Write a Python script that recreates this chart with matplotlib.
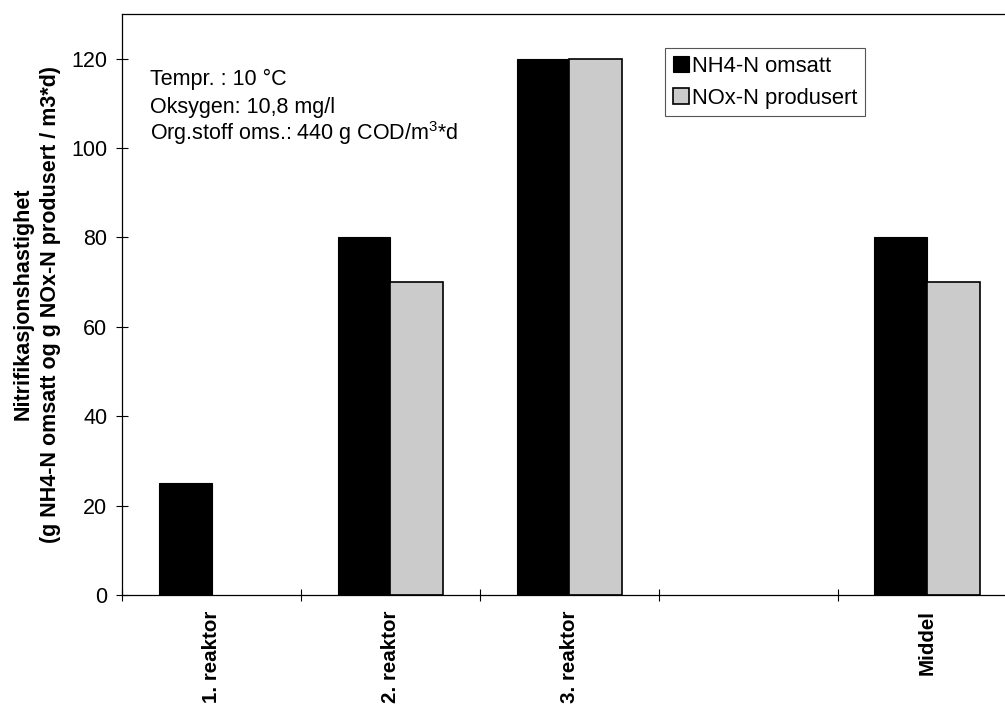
import numpy as np
import matplotlib
matplotlib.use("Agg")
import matplotlib.pyplot as plt

plt.rcParams['font.family'] = ['Liberation Sans', 'DejaVu Sans']
plt.rcParams['mathtext.fontset'] = 'custom'
plt.rcParams['mathtext.rm'] = 'Liberation Sans'
plt.rcParams['mathtext.it'] = 'Liberation Sans:italic'

# data
categories = ["1. reaktor", "2. reaktor", "3. reaktor", "", "Middel"]
nh4_omsatt = [25, 80, 120, 0, 80]
nox_produsert = [0, 70, 120, 0, 70]
series_names = ["NH4-N omsatt", "NOx-N produsert"]
info_lines = ["Tempr. : 10 °C",
              "Oksygen: 10,8 mg/l",
              "Org.stoff oms.: 440 g COD/m$^{3}$*d"]

fig = plt.figure(figsize=(10.05, 7.07), dpi=100)
ax = fig.add_axes([0.1214, 0.1584, 0.8905, 0.8218])

x = np.arange(len(categories))
w = 0.296
nh4 = np.array(nh4_omsatt, dtype=float)
nox = np.array(nox_produsert, dtype=float)
m1 = nh4 > 0
m2 = nox > 0
ax.bar(x[m1] - w/2, nh4[m1], w, color="black", edgecolor="black", linewidth=0.8,
       label=series_names[0])
ax.bar(x[m2] + w/2, nox[m2], w, color="#cbcbcb", edgecolor="black", linewidth=1.2,
       label=series_names[1])

ax.set_xlim(-0.5, len(categories) - 0.5)
ax.set_ylim(0, 130)
ax.set_yticks(np.arange(0, 121, 20))
ax.set_xticks(np.arange(len(categories)) - 0.5)
ax.set_xticklabels([])
ax.set_xticks(x, minor=True)
ax.set_xticklabels(categories, minor=True, rotation=90, fontweight="bold", fontsize=14.8,
                   va="top")
ax.tick_params(axis="x", which="minor", length=0, pad=11)
ax.tick_params(axis="x", which="major", direction="inout", length=9, width=0.8)
ax.tick_params(axis="y", direction="inout", length=9, width=0.8, labelsize=15.5, pad=6)

for s in ["left", "bottom", "top"]:
    ax.spines[s].set_linewidth(0.9)
ax.spines["right"].set_visible(False)

for i, line in enumerate(info_lines):
    ax.text(0.0313, 0.8778 - i * 0.0475, line, transform=ax.transAxes,
            fontsize=15.5, va="baseline", ha="left")

leg = ax.legend(loc="upper left", bbox_to_anchor=(0.6067, 0.9415), borderaxespad=0,
                fancybox=False, edgecolor="#555555", framealpha=1, fontsize=15.8,
                handlelength=0.75, handleheight=0.75, handletextpad=0.15,
                borderpad=0.35, labelspacing=0.5)
leg.get_frame().set_linewidth(0.8)

fig.text(37 / 1005, 0.57,
         "Nitrifikasjonshastighet\n(g NH4-N omsatt og g NOx-N produsert / m3*d)",
         rotation=90, ha="center", va="center", fontsize=15.5, fontweight="bold",
         linespacing=1.4, multialignment="center")

fig.savefig("out.png", dpi=100)
